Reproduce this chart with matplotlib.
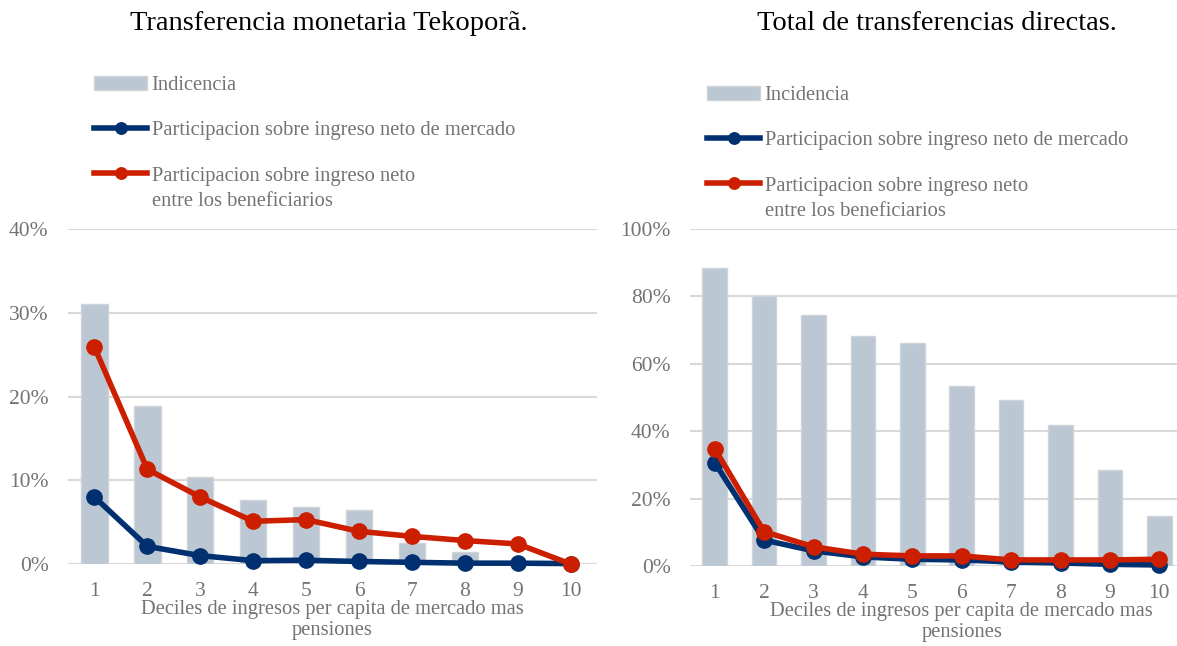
import numpy as np
import matplotlib.pyplot as plt

plt.rcParams['font.family'] = ['Liberation Serif', 'DejaVu Serif']

deciles = np.arange(1, 11)
tick_labels = [str(d) for d in deciles]

# Tekopora
teko_incidencia = [31.0, 18.9, 10.4, 7.7, 6.8, 6.5, 2.5, 1.4, 0.0, 0.0]
teko_part_mercado = [8.0, 2.1, 1.0, 0.4, 0.45, 0.3, 0.2, 0.1, 0.1, 0.05]
teko_part_benef = [25.9, 11.3, 8.0, 5.1, 5.3, 3.9, 3.3, 2.8, 2.4, 0.0]

# Total transferencias directas
total_incidencia = [88.5, 80.2, 74.4, 68.2, 66.1, 53.4, 49.2, 41.7, 28.4, 14.9]
total_part_mercado = [30.7, 7.7, 4.5, 2.7, 2.0, 1.8, 1.2, 0.9, 0.5, 0.3]
total_part_benef = [34.8, 10.2, 5.7, 3.5, 3.0, 3.0, 1.8, 1.8, 1.8, 2.0]

bar_color = "#bcc7d4"
blue = "#00306f"
red = "#cc1f00"
grid_color = "#d9d9d9"
text_gray = "#737373"

W, H = 1177, 646
fig = plt.figure(figsize=(W/100, H/100), dpi=100)

panels = [
    {"title": "Transferencia monetaria Tekoporã.", "inc": teko_incidencia,
     "merc": teko_part_mercado, "benef": teko_part_benef, "inc_label": "Indicencia",
     "rect": [68/W, 1-564/H, (597-68)/W, (564-229)/H], "ymax": 40, "yticks": [0, 10, 20, 30, 40],
     "title_x": 329, "legend_xy": (94, 76), "xlabel_x": 0.5},
    {"title": "Total de transferencias directas.", "inc": total_incidencia,
     "merc": total_part_mercado, "benef": total_part_benef, "inc_label": "Incidencia",
     "rect": [690/W, 1-566/H, (1184-690)/W, (566-229)/H], "ymax": 100, "yticks": [0, 20, 40, 60, 80, 100],
     "title_x": 937, "legend_xy": (707, 86), "xlabel_x": 0.55},
]

legends = []
for p in panels:
    ax = fig.add_axes(p["rect"])
    b = ax.bar(deciles, p["inc"], width=0.5, color=bar_color, edgecolor="#d0d4d9", linewidth=1, zorder=2)
    l1, = ax.plot(deciles, p["merc"], color=blue, linewidth=4, marker="o", markersize=11, zorder=3)
    l2, = ax.plot(deciles, p["benef"], color=red, linewidth=4, marker="o", markersize=11, zorder=4)

    ax.set_xlim(0.5, 10.5)
    ax.set_ylim(0, p["ymax"])
    ax.set_yticks(p["yticks"])
    ax.set_yticklabels([f"{v}%" for v in p["yticks"]])
    ax.set_xticks(deciles)
    ax.set_xticklabels(tick_labels)
    ax.yaxis.grid(True, color=grid_color, linewidth=1.5, zorder=0)
    ax.set_axisbelow(True)
    for s in ax.spines.values():
        s.set_visible(False)
    ax.tick_params(length=0, labelsize=15.5, colors=text_gray)
    ax.tick_params(axis="x", pad=13)
    ax.tick_params(axis="y", pad=14)
    for artist in [l1, l2]:
        artist.set_clip_on(False)

    ax.set_xlabel("Deciles de ingresos per capita de mercado mas\npensiones", fontsize=14.8,
                  color=text_gray, labelpad=0, linespacing=1.15)
    ax.xaxis.set_label_coords(p["xlabel_x"], -0.106)
    ax.xaxis.label.set_va("top")

    fig.text(p["title_x"]/W, 1-23/H, p["title"], ha="center", va="center", fontsize=20.5, color="black")

    lx, ly = p["legend_xy"]
    leg = ax.legend([b, l1, l2],
                    [p["inc_label"], "Participacion sobre ingreso neto de mercado",
                     "Participacion sobre ingreso neto"],
                    loc="upper left", bbox_to_anchor=(lx/W, 1-ly/H), bbox_transform=fig.transFigure,
                    frameon=False, fontsize=14.8, labelcolor=text_gray, handlelength=2.6,
                    handletextpad=0.2, labelspacing=1.25, borderpad=0, borderaxespad=0,
                    markerscale=0.75)
    legends.append(leg)

# second line of the red legend entry, under its first line
fig.canvas.draw()
for leg in legends:
    bb = leg.get_texts()[2].get_window_extent()
    fig.text(bb.x0/W, (bb.y0 - 25)/H, "entre los beneficiarios", ha="left", va="bottom",
             fontsize=14.8, color=text_gray)

fig.savefig("out.png", dpi=100)
